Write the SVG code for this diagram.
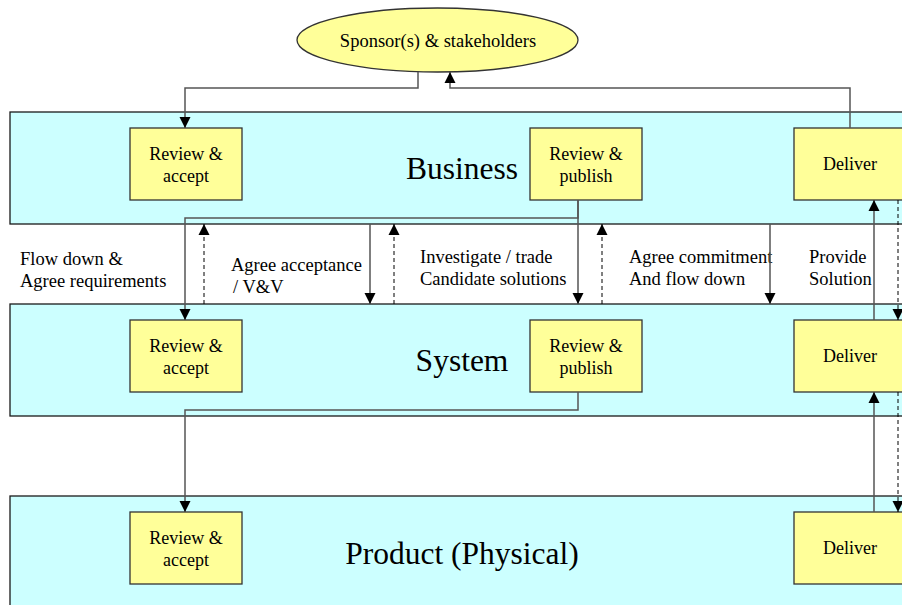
<svg xmlns="http://www.w3.org/2000/svg" width="902" height="605" viewBox="0 0 902 605">
  <defs>
    <marker id="arrow" markerUnits="userSpaceOnUse" markerWidth="12" markerHeight="12" refX="11" refY="6" orient="auto">
      <path d="M0,0.5 L11,6 L0,11.5 z" fill="#000"/>
    </marker>
    <style>
      text { font-family: "Liberation Serif", "Times New Roman", serif; fill: #000; }
      .lane { fill: #ccffff; stroke: #1a1a1a; stroke-width: 1.3; }
      .lane-title { font-size: 31.5px; text-anchor: middle; }
      .box { fill: #ffff99; stroke: #333; stroke-width: 1.3; }
      .box-text { font-size: 18px; text-anchor: middle; }
      .label { font-size: 18.5px; }
      .flow { fill: none; stroke: #555; stroke-width: 1.5; }
      .dash { fill: none; stroke: #000; stroke-width: 1; stroke-dasharray: 4 3; }
    </style>
  </defs>
  <rect width="902" height="605" fill="#fff"/>

  <!-- swim lanes -->
  <g id="lane-business">
    <rect class="lane" x="10" y="112" width="910" height="112"/>
    <text class="lane-title" x="462" y="179">Business</text>
  </g>
  <g id="lane-system">
    <rect class="lane" x="10" y="304" width="910" height="112"/>
    <text class="lane-title" x="462" y="371">System</text>
  </g>
  <g id="lane-product">
    <rect class="lane" x="10" y="496" width="910" height="130"/>
    <text class="lane-title" x="462" y="564">Product (Physical)</text>
  </g>

  <!-- sponsor -->
  <g id="sponsor">
    <ellipse cx="437.5" cy="40" rx="140.5" ry="32" fill="#ffff99" stroke="#333" stroke-width="1.3"/>
    <text x="438" y="47" font-size="18.5px" text-anchor="middle">Sponsor(s) &amp; stakeholders</text>
  </g>

  <!-- business activities -->
  <g id="biz-review-accept">
    <rect class="box" x="130" y="128" width="112" height="72"/>
    <text class="box-text" x="186" y="160">Review &amp;</text>
    <text class="box-text" x="186" y="182">accept</text>
  </g>
  <g id="biz-review-publish">
    <rect class="box" x="530" y="128" width="112" height="72"/>
    <text class="box-text" x="586" y="160">Review &amp;</text>
    <text class="box-text" x="586" y="182">publish</text>
  </g>
  <g id="biz-deliver">
    <rect class="box" x="794" y="128" width="120" height="72"/>
    <text class="box-text" x="850" y="170">Deliver</text>
  </g>

  <!-- system activities -->
  <g id="sys-review-accept">
    <rect class="box" x="130" y="320" width="112" height="72"/>
    <text class="box-text" x="186" y="352">Review &amp;</text>
    <text class="box-text" x="186" y="374">accept</text>
  </g>
  <g id="sys-review-publish">
    <rect class="box" x="530" y="320" width="112" height="72"/>
    <text class="box-text" x="586" y="352">Review &amp;</text>
    <text class="box-text" x="586" y="374">publish</text>
  </g>
  <g id="sys-deliver">
    <rect class="box" x="794" y="320" width="120" height="72"/>
    <text class="box-text" x="850" y="362">Deliver</text>
  </g>

  <!-- product activities -->
  <g id="prod-review-accept">
    <rect class="box" x="130" y="512" width="112" height="72"/>
    <text class="box-text" x="186" y="544">Review &amp;</text>
    <text class="box-text" x="186" y="566">accept</text>
  </g>
  <g id="prod-deliver">
    <rect class="box" x="794" y="512" width="120" height="72"/>
    <text class="box-text" x="850" y="554">Deliver</text>
  </g>

  <!-- interface labels -->
  <g id="labels">
    <text class="label" x="20" y="265">Flow down &amp;</text>
    <text class="label" x="20" y="287">Agree requirements</text>
    <text class="label" x="231" y="271">Agree acceptance</text>
    <text class="label" x="233" y="293">/ V&amp;V</text>
    <text class="label" x="420" y="263">Investigate / trade</text>
    <text class="label" x="420" y="285">Candidate solutions</text>
    <text class="label" x="629" y="263">Agree commitment</text>
    <text class="label" x="629" y="285">And flow down</text>
    <text class="label" x="809" y="263">Provide</text>
    <text class="label" x="809" y="285">Solution</text>
  </g>

  <!-- connectors -->
  <g id="connectors">
    <!-- sponsor <-> business -->
    <path class="flow" d="M418,72 V88 H185 V128" marker-end="url(#arrow)"/>
    <path class="flow" d="M850,128 V88 H450 V72" marker-end="url(#arrow)"/>

    <!-- business -> system flow down -->
    <path class="flow" d="M578,200 V218 H185 V320" marker-end="url(#arrow)"/>
    <path class="flow" d="M578,200 V304" marker-end="url(#arrow)"/>
    <path class="flow" d="M370,224 V304" marker-end="url(#arrow)"/>
    <path class="flow" d="M770,224 V304" marker-end="url(#arrow)"/>
    <path class="dash" d="M204,304 V224" marker-end="url(#arrow)"/>
    <path class="dash" d="M394,304 V224" marker-end="url(#arrow)"/>
    <path class="dash" d="M602,304 V224" marker-end="url(#arrow)"/>

    <!-- system -> product flow down -->
    <path class="flow" d="M578,392 V410 H185 V512" marker-end="url(#arrow)"/>

    <!-- delivery chain -->
    <path class="flow" d="M874,320 V200" marker-end="url(#arrow)"/>
    <path class="flow" d="M874,512 V392" marker-end="url(#arrow)"/>
    <path class="dash" d="M898,200 V320" marker-end="url(#arrow)"/>
    <path class="dash" d="M898,392 V512" marker-end="url(#arrow)"/>
  </g>
</svg>
